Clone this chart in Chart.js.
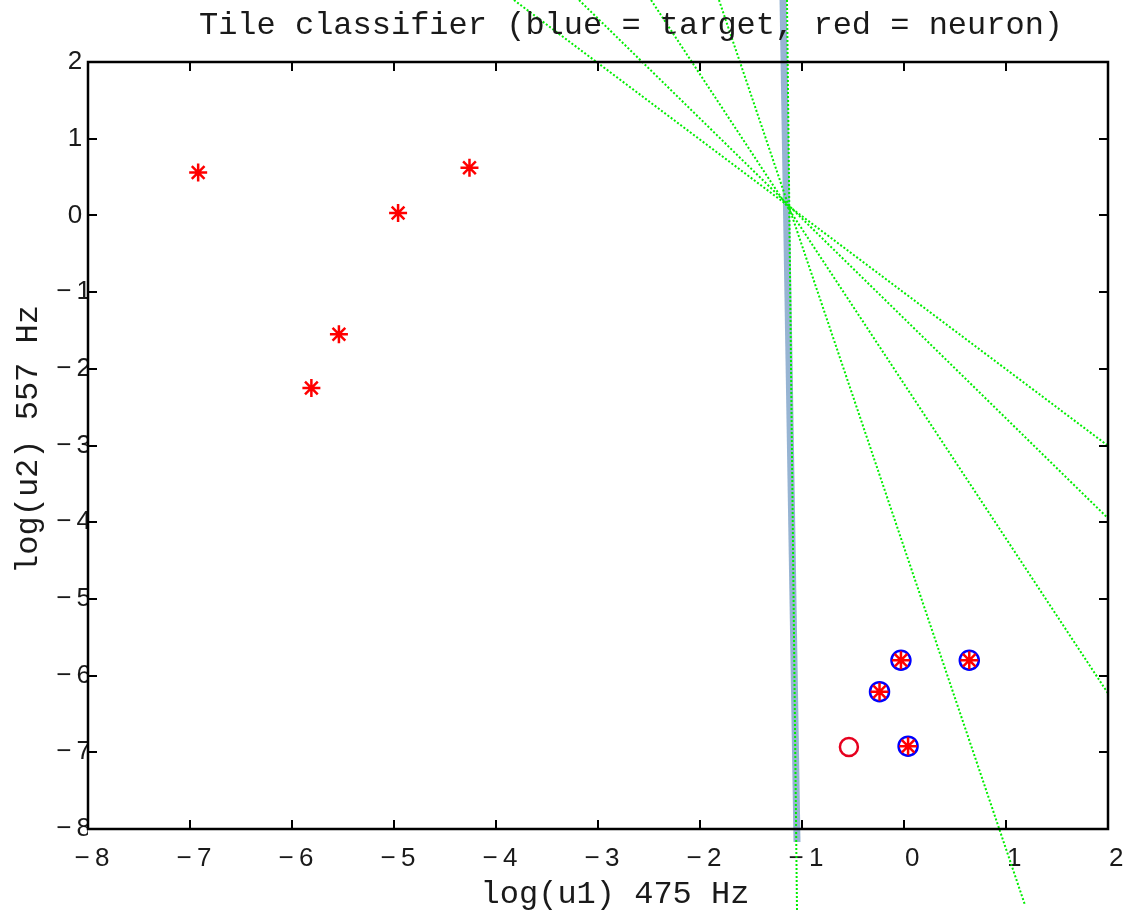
<!DOCTYPE html>
<html><head><meta charset="utf-8">
<script src="https://cdn.jsdelivr.net/npm/chart.js@4.4.1/dist/chart.umd.min.js"></script>
<style>html,body{margin:0;padding:0;background:#fff;}canvas{display:block;background:#fff;}</style>
</head><body>
<canvas id="c" width="1128" height="910"></canvas>
<script>
// ---- text ----
const titleText = 'Tile classifier (blue = target, red = neuron)';
const xAxisLabel = 'log(u1) 475 Hz';
const yAxisLabel = 'log(u2) 557 Hz';
// ---- tick values ----
const xTickValues = [-8, -7, -6, -5, -4, -3, -2, -1, 0, 1, 2];
const yTickValues = [-8, -7, -6, -5, -4, -3, -2, -1, 0, 1, 2];
// ---- neuron output (red stars) ----
const neuronX = [-6.92, -5.81, -5.54, -4.96, -4.26, -0.24, -0.03, 0.04, 0.64];
const neuronY = [0.56, -2.25, -1.55, 0.03, 0.62, -6.21, -5.80, -6.92, -5.80];
// ---- target (blue circles) ----
const targetX = [-0.24, -0.03, 0.04, 0.64];
const targetY = [-6.21, -5.80, -6.92, -5.80];
// ---- red circle ----
const redCircleX = [-0.54];
const redCircleY = [-6.93];
// ---- decision boundary (thick blue line) ----
const boundaryX = [-1.186, -1.049];
const boundaryY = [2.808, -8.170];
// ---- green dotted lines ----
const greenAX = [-3.824, 2.0];   const greenAY = [2.808, -3.003];
const greenBX = [-3.186, 2.0];   const greenBY = [2.808, -3.949];
const greenCX = [-2.480, 2.0];   const greenCY = [2.808, -6.231];
const greenDX = [-1.814, 1.186]; const greenDY = [2.808, -8.991];
const greenEX = [-1.147, -1.049]; const greenEY = [2.808, -9.056];

const pts = (xs, ys) => xs.map((x, i) => ({x: x, y: ys[i]}));
const monoFont = '"Liberation Mono", "Courier New", monospace';
const sansFont = '"Liberation Sans", Arial, sans-serif';
const GREEN = '#00ee00';
const MINUS = '\u2212\u2009';

function greenLine(xs, ys) {
  return {data: pts(xs, ys), showLine: true, pointRadius: 0, borderColor: GREEN,
          borderWidth: 2, borderDash: [2, 2], clip: false, tension: 0, fill: false};
}

const frame = {
  id: 'frame',
  afterDatasetsDraw(chart) {
    const {ctx, chartArea: {left, right, top, bottom}, scales: {x, y}} = chart;
    ctx.save();
    ctx.strokeStyle = '#000';
    ctx.lineWidth = 2;
    const L = 9;
    ctx.beginPath();
    xTickValues.forEach(v => {
      const px = Math.round(x.getPixelForValue(v));
      ctx.moveTo(px, bottom); ctx.lineTo(px, bottom - L);
      ctx.moveTo(px, top); ctx.lineTo(px, top + L);
    });
    yTickValues.forEach(v => {
      const py = Math.round(y.getPixelForValue(v));
      ctx.moveTo(left, py); ctx.lineTo(left + L, py);
      ctx.moveTo(right, py); ctx.lineTo(right - L, py);
    });
    ctx.stroke();
    ctx.lineWidth = 2.5;
    ctx.strokeRect(left, top, right - left, bottom - top);
    ctx.restore();
  },
  afterDraw(chart) {
    const {ctx, chartArea: {left, right, top, bottom}} = chart;
    ctx.save();
    ctx.fillStyle = '#1a1a1a';
    ctx.font = '32px ' + monoFont;
    ctx.textAlign = 'center';
    ctx.textBaseline = 'alphabetic';
    const cx = (left + right) / 2;
    ctx.fillText(titleText, cx + 33, top - 28);
    ctx.fillText(xAxisLabel, cx + 17, bottom + 74);
    ctx.translate(37, (top + bottom) / 2 - 6);
    ctx.rotate(-Math.PI / 2);
    ctx.fillText(yAxisLabel, 0, 0);
    ctx.restore();
  }
};

new Chart(document.getElementById('c'), {
  type: 'scatter',
  data: {
    datasets: [
      {label: 'neuron', data: pts(neuronX, neuronY), pointStyle: 'star', pointRadius: 9,
       borderWidth: 2.5, borderColor: '#ff0000', backgroundColor: '#ff0000'},
      {label: 'target', data: pts(targetX, targetY), pointStyle: 'circle', pointRadius: 9.5,
       borderWidth: 2.5, borderColor: '#0000ff', backgroundColor: 'rgba(0,0,0,0)'},
      {label: 'miss', data: pts(redCircleX, redCircleY), pointStyle: 'circle', pointRadius: 9,
       borderWidth: 2.5, borderColor: '#e6001e', backgroundColor: 'rgba(0,0,0,0)'},
      greenLine(greenAX, greenAY),
      greenLine(greenBX, greenBY),
      greenLine(greenCX, greenCY),
      greenLine(greenDX, greenDY),
      greenLine(greenEX, greenEY),
      {label: 'boundary', data: pts(boundaryX, boundaryY), showLine: true, pointRadius: 0,
       borderColor: '#97b4d3', borderWidth: 7, clip: false, tension: 0}
    ]
  },
  options: {
    responsive: false,
    animation: false,
    events: [],
    layout: {padding: {top: 62, right: 20, left: 0, bottom: 0}},
    plugins: {legend: {display: false}, tooltip: {enabled: false}, title: {display: false}},
    scales: {
      x: {
        type: 'linear', min: -8, max: 2,
        afterFit(s) { s.height = 81; s.paddingLeft = 0; s.paddingRight = 0; },
        grid: {display: false, drawTicks: false, tickLength: 0},
        border: {display: false},
        afterBuildTicks(s) { s.ticks = xTickValues.map(v => ({value: v})); },
        ticks: {
          autoSkip: false, maxRotation: 0, minRotation: 0, padding: 14, labelOffset: 4,
          color: '#1a1a1a', font: {family: sansFont, size: 26},
          callback: v => v < 0 ? MINUS + Math.abs(v) : '\u2004' + v
        }
      },
      y: {
        type: 'linear', min: -8, max: 2,
        afterFit(s) { s.width = 88; s.paddingTop = 0; s.paddingBottom = 0; },
        grid: {display: false, drawTicks: false, tickLength: 0},
        border: {display: false},
        afterBuildTicks(s) { s.ticks = yTickValues.map(v => ({value: v})); },
        ticks: {
          autoSkip: false, padding: -3,
          color: '#1a1a1a', font: {family: sansFont, size: 26},
          callback: v => v < 0 ? MINUS + Math.abs(v) : v + '\u2004'
        }
      }
    }
  },
  plugins: [frame]
});
</script>
</body></html>
